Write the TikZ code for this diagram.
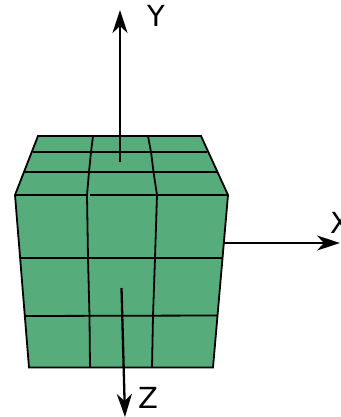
\documentclass[tikz,border=0pt]{standalone}
\usepackage{fontspec}
\setmainfont{DejaVu Sans}
\usetikzlibrary{arrows.meta}

\definecolor{cubegreen}{RGB}{87,172,123}

\begin{document}
\begin{tikzpicture}[
  x=1pt,
  y=-1pt,
  face/.style={
    draw=black,
    fill=cubegreen,
    line width=1.8pt,
    line join=miter
  },
  grid line/.style={
    draw=black,
    line width=1.8pt
  },
  axis/.style={
    draw=black,
    line width=2.3pt,
    -{Stealth[length=23pt,width=15pt,inset=7pt]}
  },
  axis label/.style={
    font=\fontsize{29}{29}\selectfont,
    inner sep=0pt
  }
]
\useasboundingbox (0,0) rectangle (340,417);

% corners of the top and front faces
\coordinate (T-1) at (38,136);
\coordinate (T-2) at (201,136);
\coordinate (T-3) at (228,195);
\coordinate (T-4) at (15,195);
\coordinate (F-1) at (29,367.5);
\coordinate (F-2) at (213,367.5);

\draw[face] (T-1) -- (T-2) -- (T-3) -- (F-2) -- (F-1) -- (T-4) -- cycle;

% rows, each one left end / right end
\foreach \name/\xa/\ya/\xb/\yb in {
  A/33/152/207/152,
  B/25/172/217/172,
  C/20/258/223/258,
  D/25/316/217.5/315.5
} {
  \coordinate (\name-l) at (\xa,\ya);
  \coordinate (\name-r) at (\xb,\yb);
  \draw[grid line] (\name-l) -- (\name-r);
}

% the edge of the front face stops short of the gap
\coordinate (E-1) at (86,195);
\coordinate (E-2) at (90,195);
\draw[grid line] (T-4) -- (E-1);
\draw[grid line] (E-2) -- (T-3);

% columns
\coordinate (P-1) at (93,136);
\coordinate (P-2) at (91,152);
\coordinate (P-3) at (89,172);
\coordinate (P-4) at (87,195);
\coordinate (P-5) at (88,258);
\coordinate (P-6) at (89.5,316);
\coordinate (P-7) at (90,367.5);

\coordinate (Q-1) at (148,136);
\coordinate (Q-2) at (151,152);
\coordinate (Q-3) at (153.5,172);
\coordinate (Q-4) at (157,195);
\coordinate (Q-5) at (155,258);
\coordinate (Q-6) at (153,316);
\coordinate (Q-7) at (152,367.5);

\draw[grid line] (P-1) -- (P-2) -- (P-3) -- (P-4) -- (P-5) -- (P-6) -- (P-7);
\draw[grid line] (Q-1) -- (Q-2) -- (Q-3) -- (Q-4) -- (Q-5) -- (Q-6) -- (Q-7);

% axes
\coordinate (Y-start) at (120,162);
\coordinate (Y-end) at (120,10);
\coordinate (X-start) at (224,243);
\coordinate (X-end) at (340,243);
\coordinate (Z-start) at (121.5,288);
\coordinate (Z-end) at (125,417);

\draw[axis] (Y-start) -- (Y-end);
\draw[axis] (X-start) -- (X-end);
\draw[axis] (Z-start) -- (Z-end);

\node[axis label] (Y-label) at (156,16) {Y};
\node[axis label] (X-label) at (340,223) {X};
\node[axis label] (Z-label) at (148,398) {Z};
\end{tikzpicture}
\end{document}
